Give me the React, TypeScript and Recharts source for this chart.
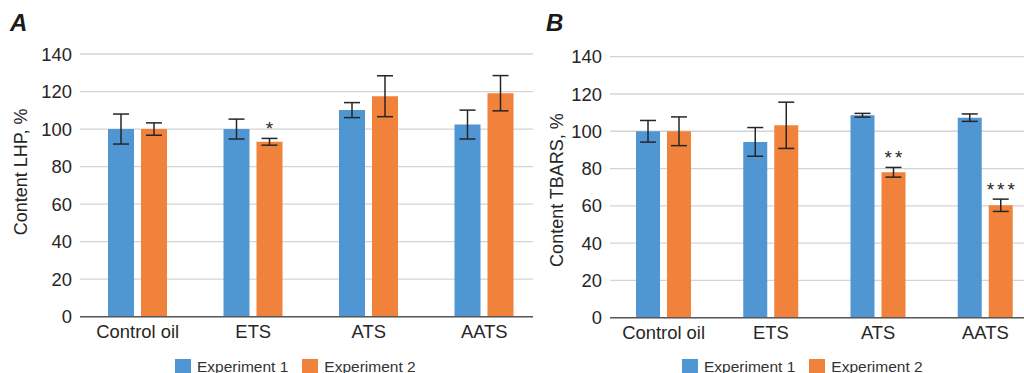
import { BarChart, Bar, XAxis, YAxis, CartesianGrid, ErrorBar, LabelList } from 'recharts'

const categories = ['Control oil', 'ETS', 'ATS', 'AATS']
const seriesNames = ['Experiment 1', 'Experiment 2']
const seriesColors = ['#5096d2', '#f0823b']
const yTicks = [0, 20, 40, 60, 80, 100, 120, 140]

// Panel A - LHP
const lhpExp1 = [100, 100, 110.1, 102.4]
const lhpExp1Err = [8, 5.3, 4, 7.7]
const lhpExp2 = [100, 93.2, 117.5, 119.1]
const lhpExp2Err = [3.3, 1.8, 10.9, 9.4]
const lhpMarks = ['', '*', '', '']

// Panel B - TBARS
const tbarsExp1 = [100, 94.3, 108.6, 107.3]
const tbarsExp1Err = [5.8, 7.7, 1, 2]
const tbarsExp2 = [100, 103.2, 78, 60.3]
const tbarsExp2Err = [7.7, 12.4, 2.6, 3.3]
const tbarsMarks = ['', '', '**', '***']

const FONT = '"Liberation Sans", Arial, sans-serif'
const TEXT = '#262626'

type PanelProps = {
  letter: string
  yLabel: string
  exp1: number[]
  err1: number[]
  exp2: number[]
  err2: number[]
  marks: string[]
  left: number
  width: number
  yAxisWidth: number
  plotTop: number
  plotBottom: number
  barSize: number
  labelDx: number
  labelDy: number
  letterX: number
  legendX: number
}

const Panel = (p: PanelProps) => {
  const data = categories.map((name, i) => ({
    name,
    e1: p.exp1[i],
    e1err: p.err1[i],
    e2: p.exp2[i],
    e2err: p.err2[i],
    mark: p.marks[i],
  }))

  // significance stars above the error bar of experiment 2
  const renderMark = (props: any) => {
    const { x, y, width, height, index } = props
    const d = data[index]
    if (!d || !d.mark) return null
    const errTop = y - (d.e2err * height) / d.e2
    return (
      <text
        x={x + width / 2 + 1.5}
        y={errTop - 3}
        textAnchor="middle"
        fontSize={19}
        letterSpacing={3}
        fill={TEXT}
      >
        {d.mark}
      </text>
    )
  }

  return (
    <div style={{ position: 'absolute', left: p.left, top: 0, width: p.width, height: 373, background: '#fff' }}>
      <div
        style={{
          position: 'absolute',
          left: p.letterX,
          top: 11,
          fontSize: 24,
          lineHeight: '24px',
          fontWeight: 'bold',
          fontStyle: 'italic',
          color: '#1a1a1a',
        }}
      >
        {p.letter}
      </div>
      <BarChart
        width={p.width}
        height={373}
        data={data}
        barSize={p.barSize}
        barGap={7}
        margin={{ top: p.plotTop, right: 0, bottom: 373 - p.plotBottom - 30, left: 0 }}
      >
        <CartesianGrid vertical={false} stroke="#d4d4d4" strokeWidth={1.3} />
        <XAxis
          dataKey="name"
          height={30}
          tickLine={false}
          axisLine={{ stroke: '#595959', strokeWidth: 1.5 }}
          tick={{ fill: TEXT, fontSize: 18.4 }}
          interval={0}
        />
        <YAxis
          width={p.yAxisWidth}
          domain={[0, 140]}
          ticks={yTicks}
          axisLine={false}
          tickLine={false}
          tick={{ fill: TEXT, fontSize: 18.4 }}
          label={{
            value: p.yLabel,
            angle: -90,
            position: 'center',
            dx: p.labelDx,
            dy: p.labelDy,
            fill: TEXT,
            fontSize: 18,
          }}
        />
        <Bar dataKey="e1" name={seriesNames[0]} fill={seriesColors[0]} isAnimationActive={false}>
          <ErrorBar dataKey="e1err" width={8} stroke={TEXT} strokeWidth={1.5} direction="y" isAnimationActive={false} />
        </Bar>
        <Bar dataKey="e2" name={seriesNames[1]} fill={seriesColors[1]} isAnimationActive={false}>
          <ErrorBar dataKey="e2err" width={8} stroke={TEXT} strokeWidth={1.5} direction="y" isAnimationActive={false} />
          <LabelList dataKey="mark" content={renderMark} />
        </Bar>
      </BarChart>
      <div
        style={{
          position: 'absolute',
          left: p.legendX,
          top: 359,
          display: 'flex',
          alignItems: 'center',
          fontSize: 15.5,
          color: '#333',
          whiteSpace: 'nowrap',
        }}
      >
        {seriesNames.map((n, i) => (
          <div key={n} style={{ display: 'flex', alignItems: 'center', marginRight: 14 }}>
            <span style={{ display: 'inline-block', width: 16, height: 16, background: seriesColors[i], marginRight: 6 }} />
            <span style={{ lineHeight: '16px' }}>{n}</span>
          </div>
        ))}
      </div>
    </div>
  )
}

const App = () => {
  return (
    <div
      style={{
        position: 'absolute',
        left: 0,
        top: 0,
        width: 1024,
        height: 373,
        overflow: 'hidden',
        background: '#fff',
        fontFamily: FONT,
      }}
    >
      <Panel
        letter="A"
        yLabel="Content LHP, %"
        exp1={lhpExp1}
        err1={lhpExp1Err}
        exp2={lhpExp2}
        err2={lhpExp2Err}
        marks={lhpMarks}
        left={0}
        width={542}
        yAxisWidth={80}
        plotTop={54}
        plotBottom={316.7}
        barSize={26}
        labelDx={-19.3}
        labelDy={-13.4}
        letterX={10}
        legendX={175}
      />
      <Panel
        letter="B"
        yLabel="Content TBARS, %"
        exp1={tbarsExp1}
        err1={tbarsExp1Err}
        exp2={tbarsExp2}
        err2={tbarsExp2Err}
        marks={tbarsMarks}
        left={533}
        width={506}
        yAxisWidth={77}
        plotTop={56.7}
        plotBottom={317.7}
        barSize={24}
        labelDx={-14.5}
        labelDy={2.8}
        letterX={13}
        legendX={149}
      />
    </div>
  )
}

export default App
